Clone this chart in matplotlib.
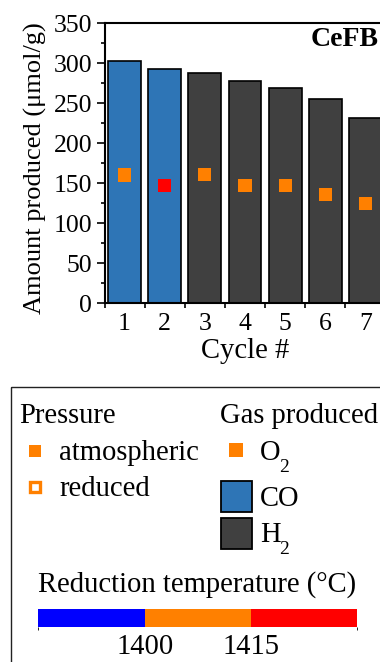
import matplotlib
matplotlib.use("Agg")
import matplotlib.pyplot as plt
import matplotlib.colors as mcolors
from matplotlib.cm import ScalarMappable
from matplotlib.patches import Rectangle
from matplotlib.ticker import MultipleLocator
import numpy as np

plt.rcParams['font.family'] = ['Liberation Serif', 'DejaVu Serif']

# data
cycles = [1, 2, 3, 4, 5, 6, 7]
amount = [302, 292, 288, 278, 269, 255, 231]
gas = ["CO", "CO", "H2", "H2", "H2", "H2", "H2"]
o2 = [160, 147, 161, 147, 147, 136, 124]
red_temp = [1400, 1415, 1400, 1400, 1400, 1400, 1400]

temp_bounds = [1385, 1400, 1415, 1430]
temp_ticks = [1400, 1415]
temp_colors = ["#0000ff", "#ff8000", "#ff0000"]
gas_colors = {"CO": "#2e75b6", "H2": "#404040"}
orange = temp_colors[1]

W, H = 380, 662
FS = 20.6
fig = plt.figure(figsize=(W / 100, H / 100), dpi=100)


def px(x0, y0, w, h):
    """rect given in pixels from the top-left corner"""
    return [x0 / W, 1 - (y0 + h) / H, w / W, h / H]


cmap = mcolors.ListedColormap(temp_colors)
norm = mcolors.BoundaryNorm(temp_bounds, cmap.N)

# ---- main chart ----
ax = fig.add_axes(px(104.5, 23, 281, 280))
ax.bar(cycles, amount, width=0.82, color=[gas_colors[g] for g in gas],
       edgecolor="black", linewidth=1.2, zorder=2)
ax.scatter(cycles, o2, c=red_temp, cmap=cmap, norm=norm, marker="s",
           s=90, linewidths=0, zorder=3)

ax.set_xlim(0.5, 7.5)
ax.set_ylim(0, 350)
ax.set_xticks(cycles)
ax.set_xticks(np.arange(0.5, 7.6, 1), minor=True)
ax.yaxis.set_major_locator(MultipleLocator(50))
ax.yaxis.set_minor_locator(MultipleLocator(25))
ax.tick_params(axis="y", which="major", direction="out", length=6, width=1.2,
               labelsize=18.5, pad=3)
ax.tick_params(axis="y", which="minor", direction="out", length=3, width=1.2)
ax.tick_params(axis="x", which="major", length=0, labelsize=18.5, pad=7)
ax.tick_params(axis="x", which="minor", direction="out", length=3.5, width=1.2)
for s in ax.spines.values():
    s.set_linewidth(1.5)

ax.set_xlabel("Cycle #", fontsize=FS, labelpad=2)
ax.set_ylabel("Amount produced (μmol/g)", fontsize=19)
ax.yaxis.set_label_coords(-0.205, 0.48)
ax.text(0.735, 0.94, "CeFB", transform=ax.transAxes, fontsize=20,
        fontweight="bold", ha="left", va="center")

# ---- legend panel (pixel coordinates) ----
lax = fig.add_axes([0, 0, 1, 1])
lax.set_xlim(0, W)
lax.set_ylim(H, 0)
lax.axis("off")
lax.patch.set_visible(False)

lax.add_patch(Rectangle((11, 387), 420, 320, fill=False, lw=1.0,
                        ec="#222222", clip_on=False))

lax.text(19, 423, "Pressure", fontsize=FS, va="baseline")
lax.plot([35], [451], ls="none", marker="s", ms=9, mfc=orange, mec=orange, mew=0)
lax.text(59, 460, "atmospheric", fontsize=FS, va="baseline")
lax.plot([35], [487], ls="none", marker="s", ms=7.2, mfc="white", mec=orange, mew=2.4)
lax.text(59, 496, "reduced", fontsize=FS, va="baseline")

lax.text(220, 423, "Gas produced", fontsize=FS, va="baseline")
lax.plot([236], [450], ls="none", marker="s", ms=9.6, mfc=orange, mec=orange, mew=0)
lax.text(260, 460, "O", fontsize=FS, va="baseline")
lax.text(279, 472, "2", fontsize=14, va="baseline")
lax.add_patch(Rectangle((220.5, 480.5), 31.5, 31, fc=gas_colors["CO"], ec="black", lw=1.3))
lax.text(260, 506, "CO", fontsize=FS, va="baseline")
lax.add_patch(Rectangle((220.5, 517.5), 31.5, 31, fc=gas_colors["H2"], ec="black", lw=1.3))
lax.text(260, 541.7, "H", fontsize=FS, va="baseline")
lax.text(279, 554, "2", fontsize=14, va="baseline")

lax.text(38, 591.7, "Reduction temperature (°C)", fontsize=FS, va="baseline")

cax = fig.add_axes(px(38.3, 609, 319, 18.3))
cb = fig.colorbar(ScalarMappable(norm=norm, cmap=cmap), cax=cax,
                  orientation="horizontal", ticks=temp_ticks)
cb.outline.set_visible(False)
cax.tick_params(length=0, labelsize=FS, pad=5)

fig.savefig("out.png", dpi=100)
